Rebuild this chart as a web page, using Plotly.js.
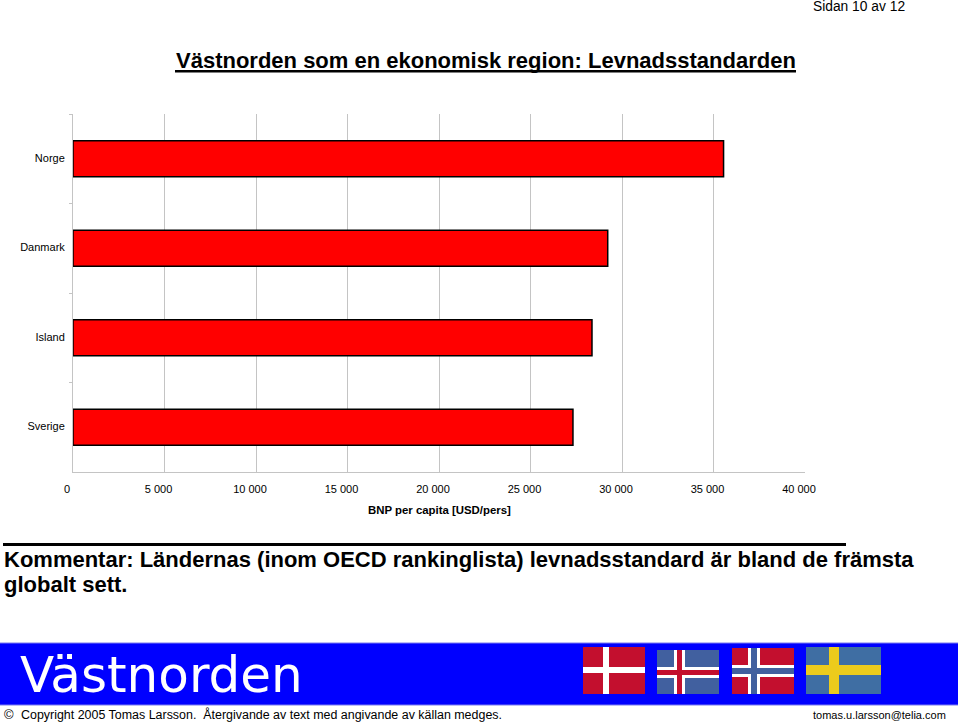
<!DOCTYPE html>
<html>
<head>
<meta charset="utf-8">
<script src="https://cdn.plot.ly/plotly-3.0.1.min.js"></script>
<style>html,body{margin:0;padding:0;background:#fff;overflow:hidden}#c{width:959px;height:723px}</style>
</head>
<body>
<div id="c"></div>
<script>
const countries = ['Norge', 'Danmark', 'Island', 'Sverige'];
const bnpPerCapita = [35550, 29220, 28360, 27320];
const xTickValues = [0, 5000, 10000, 15000, 20000, 25000, 30000, 35000, 40000];
const xTickLabels = ['0', '5 000', '10 000', '15 000', '20 000', '25 000', '30 000', '35 000', '40 000'];

const W = 959, H = 723, L = 73, R = 805, T = 114, B = 472;
const sans = '"Liberation Sans", Arial, sans-serif';
const px = x => (x - L) / (R - L);
const py = y => (B - y) / (B - T);

function rect(x0, y0, x1, y1, color) {
  return {type: 'rect', xref: 'paper', yref: 'paper', layer: 'above', x0: px(x0), x1: px(x1), y0: py(y0), y1: py(y1), fillcolor: color, line: {width: 0}};
}
function text(x, y, str, size, opts) {
  opts = opts || {};
  return {xref: 'paper', yref: 'paper', x: px(x), y: py(y), text: str, showarrow: false, xanchor: opts.anchor || 'left', yanchor: 'middle',
    align: 'left', borderpad: 0, font: {family: opts.family || sans, size: size, color: opts.color || '#000'}};
}

const RED = '#c30f2e', ISBLUE = '#41609f', SEBLUE = '#3f6ea3', YEL = '#eccb1c', WHITE = '#fff';
const shapes = [
  rect(175, 70, 796, 72.5, '#000'),
  rect(3, 543, 846, 546, '#000'),
  rect(0, 643, 958, 705, '#0000ff'),
  rect(0, 642.5, 958, 643.5, '#7a7af0'),
  rect(0, 704.5, 958, 705.5, '#7a7af0'),
  // Denmark
  rect(583, 647, 645, 694, RED),
  rect(603, 647, 609, 694, WHITE),
  rect(583, 667, 645, 673, WHITE),
  // Iceland
  rect(657, 650, 719, 694, ISBLUE),
  rect(674, 650, 685, 694, WHITE),
  rect(657, 667, 719, 678, WHITE),
  rect(677, 650, 682, 694, RED),
  rect(657, 670, 719, 675, RED),
  // Norway
  rect(732, 648, 794, 694, RED),
  rect(748, 648, 760, 694, WHITE),
  rect(732, 665, 794, 677, WHITE),
  rect(751, 648, 757, 694, ISBLUE),
  rect(732, 668, 794, 674, ISBLUE),
  // Sweden
  rect(806, 647, 881, 694, SEBLUE),
  rect(829, 647, 839, 694, YEL),
  rect(806, 665, 881, 675, YEL)
];

const annotations = [
  text(812, 6, 'Sidan 10 av 12', 13.8),
  text(175, 60, '<b>Västnorden som en ekonomisk region: Levnadsstandarden</b>', 22),
  text(439, 510, '<b>BNP per capita [USD/pers]</b>', 11.4, {anchor: 'center'}),
  text(3, 559, '<b>Kommentar: Ländernas (inom OECD rankinglista) levnadsstandard är bland de främsta</b>', 22),
  text(3, 584, '<b>globalt sett.</b>', 22),
  text(19, 675, 'Västnorden', 50, {family: '"DejaVu Sans", sans-serif', color: '#fff'}),
  text(3, 714, '©', 13),
  text(20, 714, 'Copyright 2005 Tomas Larsson.  Återgivande av text med angivande av källan medges.', 12.45),
  text(812, 715, 'tomas.u.larsson@telia.com', 11)
];

const data = [{
  type: 'bar',
  orientation: 'h',
  y: countries,
  x: bnpPerCapita,
  width: 0.4,
  marker: {color: '#ff0000', line: {color: '#000', width: 1.5}},
  hoverinfo: 'x+y'
}];

const layout = {
  width: W, height: H,
  paper_bgcolor: '#fff', plot_bgcolor: '#fff',
  margin: {l: L, r: W - R, t: T, b: H - B, pad: 0},
  showlegend: false,
  font: {family: sans, size: 11, color: '#000'},
  xaxis: {
    range: [0, 40000], tickmode: 'array', tickvals: xTickValues, ticktext: xTickLabels,
    showgrid: true, gridcolor: '#c4c4c4', gridwidth: 1, zeroline: false,
    showline: true, linecolor: '#c4c4c4', linewidth: 1, ticks: '', ticklabelshift: -6, ticklabelstandoff: 7,
    tickfont: {family: sans, size: 11, color: '#000'}
  },
  yaxis: {
    type: 'category', categoryorder: 'array', categoryarray: countries, range: [3.5, -0.5],
    tickson: 'boundaries', ticks: 'outside', ticklen: 3, tickcolor: '#c4c4c4', tickwidth: 1,
    showgrid: false, zeroline: false, showline: true, linecolor: '#c4c4c4', linewidth: 1,
    ticklabelstandoff: 5, ticklabelshift: 1,
    tickfont: {family: sans, size: 11, color: '#000'}
  },
  shapes: shapes,
  annotations: annotations
};

Plotly.newPlot('c', data, layout, {displayModeBar: false, staticPlot: true});
</script>
</body>
</html>
